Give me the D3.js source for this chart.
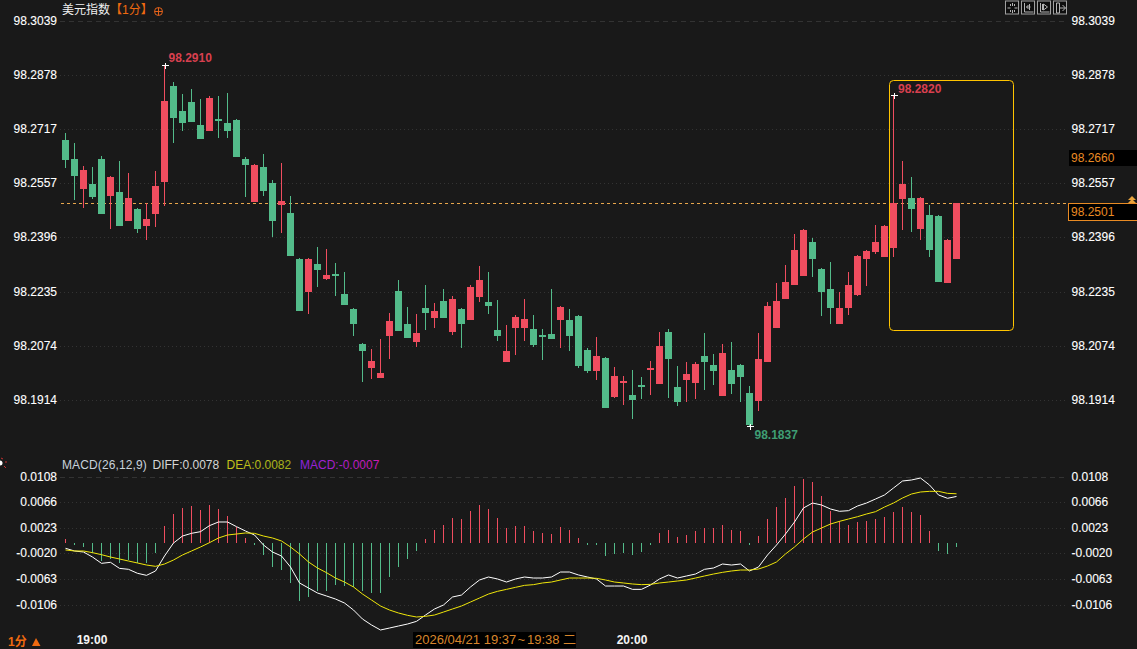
<!DOCTYPE html>
<html>
<head>
<meta charset="utf-8">
<style>
  html, body { margin: 0; padding: 0; background: #191919; overflow: hidden; }
  text { font-family: "Liberation Sans", Arial, sans-serif; }
  .cjk { font-family: "Liberation Sans", "Noto Sans CJK SC", sans-serif; }
</style>
<script src="https://cdn.jsdelivr.net/npm/d3@7"></script>
</head>
<body>
<div id="chart"></div>
<script>
// candles, one per minute
let opens = [98.2687,98.2630,98.2541,98.2556,98.2630,98.2520,98.2532,98.2446,98.2482,98.2431,
  98.2467,98.2562,98.2847,98.2773,98.2800,98.2731,98.2713,98.2749,98.2737,98.2746,
  98.2630,98.2503,98.2606,98.2559,98.2494,98.2470,98.2333,98.2235,98.2319,98.2274,
  98.2289,98.2229,98.2185,98.2081,98.2010,98.1980,98.2105,98.2239,98.2141,98.2087,
  98.2188,98.2158,98.2209,98.2117,98.2185,98.2152,98.2221,98.2206,98.2123,98.2028,
  98.2129,98.2129,98.2126,98.2108,98.2111,98.2152,98.2152,98.2164,98.2063,98.2001,
  98.2040,98.1924,98.1965,98.1930,98.1959,98.2004,98.1962,98.2117,98.1953,98.1974,
  98.1965,98.2046,98.2019,98.1927,98.2004,98.2019,98.1936,98.1912,98.2028,98.2129,
  98.2215,98.2256,98.2283,98.2384,98.2304,98.2244,98.2141,98.2188,98.2227,98.2333,
  98.2354,98.2339,98.2366,98.2511,98.2515,98.2422,98.2464,98.2461,98.2262,98.2333];
let highs = [98.2707,98.2678,98.2609,98.2606,98.2639,98.2580,98.2624,98.2589,98.2485,98.2500,
  98.2595,98.2910,98.2859,98.2823,98.2838,98.2808,98.2817,98.2817,98.2826,98.2749,
  98.2636,98.2615,98.2645,98.2568,98.2618,98.2520,98.2336,98.2336,98.2369,98.2363,
  98.2322,98.2295,98.2188,98.2084,98.2066,98.2096,98.2173,98.2271,98.2191,98.2170,
  98.2256,98.2203,98.2244,98.2224,98.2188,98.2256,98.2313,98.2295,98.2212,98.2138,
  98.2167,98.2215,98.2167,98.2126,98.2244,98.2194,98.2185,98.2167,98.2069,98.2102,
  98.2043,98.2013,98.1986,98.2004,98.1983,98.2031,98.2117,98.2126,98.2016,98.2028,
  98.2028,98.2114,98.2052,98.2081,98.2087,98.2022,98.1956,98.2114,98.2206,98.2262,
  98.2316,98.2408,98.2423,98.2396,98.2307,98.2325,98.2235,98.2295,98.2345,98.2360,
  98.2434,98.2434,98.2820,98.2624,98.2577,98.2517,98.2494,98.2464,98.2393,98.2501];
let lows = [98.2603,98.2509,98.2485,98.2511,98.2467,98.2422,98.2431,98.2446,98.2411,98.2390,
  98.2428,98.2491,98.2678,98.2713,98.2740,98.2690,98.2713,98.2693,98.2693,98.2636,
  98.2517,98.2503,98.2520,98.2399,98.2411,98.2342,98.2179,98.2170,98.2250,98.2271,
  98.2224,98.2197,98.2105,98.1968,98.1977,98.1980,98.2037,98.2120,98.2099,98.2072,
  98.2123,98.2129,98.2158,98.2108,98.2069,98.2152,98.2206,98.2170,98.2090,98.2028,
  98.2049,98.2090,98.2072,98.2034,98.2096,98.2069,98.2060,98.2010,98.1995,98.1974,
  98.1891,98.1921,98.1900,98.1859,98.1918,98.1930,98.1962,98.1921,98.1897,98.1909,
  98.1918,98.1945,98.1959,98.1927,98.1933,98.1909,98.1837,98.1882,98.2028,98.2129,
  98.2215,98.2256,98.2283,98.2280,98.2164,98.2141,98.2141,98.2167,98.2224,98.2253,
  98.2348,98.2339,98.2339,98.2420,98.2414,98.2390,98.2339,98.2265,98.2262,98.2333];
let closes = [98.2627,98.2580,98.2598,98.2517,98.2467,98.2577,98.2431,98.2515,98.2422,98.2452,
  98.2550,98.2802,98.2752,98.2737,98.2740,98.2690,98.2811,98.2743,98.2713,98.2636,
  98.2612,98.2612,98.2535,98.2446,98.2506,98.2342,98.2179,98.2333,98.2301,98.2286,
  98.2283,98.2197,98.2141,98.2060,98.2031,98.1995,98.2149,98.2120,98.2099,98.2114,
  98.2173,98.2179,98.2158,98.2215,98.2141,98.2250,98.2271,98.2194,98.2105,98.2060,
  98.2161,98.2155,98.2078,98.2105,98.2096,98.2191,98.2105,98.2016,98.2001,98.2046,
  98.1891,98.1986,98.1971,98.1915,98.1956,98.2010,98.2075,98.2037,98.1909,98.1992,
  98.2022,98.2028,98.2001,98.2055,98.1962,98.1983,98.1840,98.2037,98.2194,98.2209,
  98.2265,98.2360,98.2420,98.2333,98.2235,98.2188,98.2188,98.2256,98.2342,98.2357,
  98.2384,98.2431,98.2501,98.2556,98.2482,98.2515,98.2360,98.2265,98.2390,98.2501];

// macd pane
let diffValues = [-0.00089,-0.00134,-0.00151,-0.00235,-0.00341,-0.00324,-0.00425,-0.00441,-0.00508,-0.00542,
  -0.00469,-0.00218,0,0.00117,0.00162,0.00190,0.00291,0.00352,0.00352,0.00274,
  0.00201,0.00134,-0.00034,-0.00151,-0.00218,-0.00402,-0.00670,-0.00754,-0.00838,-0.00888,
  -0.00939,-0.01006,-0.01123,-0.01274,-0.01374,-0.01458,-0.01425,-0.01391,-0.01358,-0.01313,
  -0.01207,-0.01106,-0.01039,-0.00905,-0.00872,-0.00737,-0.00620,-0.00570,-0.00603,-0.00654,
  -0.00603,-0.00570,-0.00587,-0.00587,-0.00570,-0.00486,-0.00486,-0.00536,-0.00570,-0.00603,
  -0.00721,-0.00721,-0.00721,-0.00777,-0.00777,-0.00704,-0.00603,-0.00536,-0.00587,-0.00553,
  -0.00520,-0.00441,-0.00419,-0.00352,-0.00369,-0.00352,-0.00469,-0.00402,-0.00201,-0.00034,
  0.00151,0.00352,0.00587,0.00670,0.00637,0.00570,0.00531,0.00542,0.00620,0.00670,
  0.00737,0.00805,0.00922,0.01039,0.01056,0.01089,0.00972,0.00805,0.00749,0.00780];
let deaValues = [-0.00117,-0.00134,-0.00134,-0.00162,-0.00196,-0.00235,-0.00268,-0.00302,-0.00335,-0.00369,
  -0.00391,-0.00352,-0.00285,-0.00201,-0.00134,-0.00067,0.00006,0.00084,0.00134,0.00151,
  0.00168,0.00162,0.00117,0.00084,0.00034,-0.00067,-0.00184,-0.00318,-0.00419,-0.00497,
  -0.00587,-0.00654,-0.00737,-0.00855,-0.00955,-0.01056,-0.01123,-0.01173,-0.01212,-0.01240,
  -0.01229,-0.01207,-0.01157,-0.01106,-0.01056,-0.00989,-0.00922,-0.00855,-0.00810,-0.00777,
  -0.00743,-0.00710,-0.00698,-0.00670,-0.00654,-0.00620,-0.00587,-0.00587,-0.00587,-0.00592,
  -0.00620,-0.00654,-0.00670,-0.00687,-0.00698,-0.00693,-0.00670,-0.00654,-0.00637,-0.00620,
  -0.00587,-0.00553,-0.00520,-0.00492,-0.00469,-0.00453,-0.00453,-0.00436,-0.00386,-0.00318,
  -0.00184,-0.00067,0.00067,0.00184,0.00251,0.00318,0.00363,0.00402,0.00441,0.00486,
  0.00525,0.00603,0.00670,0.00754,0.00821,0.00855,0.00866,0.00866,0.00832,0.00825];
let macdValues = [0.0007,-0.0003,-0.0007,-0.0017,-0.0030,-0.0026,-0.0033,-0.0029,-0.0034,-0.0033,
  -0.0017,0.0028,0.0049,0.0059,0.0062,0.0055,0.0064,0.0057,0.0045,0.0026,
  0.0008,-0.0003,-0.0020,-0.0040,-0.0045,-0.0067,-0.0097,-0.0091,-0.0080,-0.0080,
  -0.0070,-0.0072,-0.0074,-0.0080,-0.0084,-0.0084,-0.0057,-0.0040,-0.0027,-0.0013,
  0.0007,0.0022,0.0030,0.0042,0.0040,0.0054,0.0064,0.0057,0.0042,0.0025,
  0.0028,0.0028,0.0020,0.0017,0.0015,0.0027,0.0022,0.0008,-0.0003,-0.0003,
  -0.0022,-0.0018,-0.0017,-0.0020,-0.0015,-0.0003,0.0017,0.0022,0.0010,0.0013,
  0.0020,0.0025,0.0025,0.0030,0.0022,0.0020,-0.0003,0.0012,0.0040,0.0060,
  0.0075,0.0096,0.0107,0.0102,0.0079,0.0054,0.0037,0.0030,0.0035,0.0037,
  0.0040,0.0044,0.0052,0.0060,0.0052,0.0047,0.0020,-0.0013,-0.0018,-0.0007];

// tick labels
let priceTicks = [98.3039,98.2878,98.2717,98.2557,98.2396,98.2235,98.2074,98.1914];
let macdTicks = ["0.0108","0.0066","0.0023","-0.0020","-0.0063","-0.0106"];
let timeIndex = [3,63];
let timeLabels = ["19:00","20:00"];

let lastPrice = 98.2501;
let red = "#ef4d5f", green = "#53bb8a", orange = "#e98b24";

let width = 1137, height = 649;

let svg = d3.select("#chart")
  .append("svg")
  .attr("width", width)
  .attr("height", height)
  .style("display", "block");

svg.append("rect").attr("width", width).attr("height", height).attr("fill", "#191919");

let x = d3.scalePoint().domain(d3.range(closes.length)).range([65.5, 956.5]);
let y = d3.scaleLinear().domain([98.3039, 98.1914]).range([21.3, 400.3]);
// the labels on the macd axis are rounded, so the axis is evenly spaced labels
let macdAxisY = d3.scalePoint().domain(macdTicks).range([477.3, 605]);
let macdY = d3.scaleLinear().domain([0.0108, -0.0106]).range([478.56, 606.25]);

// grid
function grid(scale, ticks) {
  let g = svg.append("g").attr("shape-rendering", "crispEdges");
  g.selectAll("line").data(ticks).enter().append("line")
    .attr("x1", 60).attr("x2", 1066)
    .attr("y1", function(d) { return scale(d); })
    .attr("y2", function(d) { return scale(d); })
    .attr("stroke", "#333333")
    .attr("stroke-dasharray", function(d, i) { return i == 0 ? "5,4" : "1,3"; });
}
grid(y, priceTicks);
grid(macdAxisY, macdTicks);

// axes, both sides
function tickStyle(g) {
  g.select(".domain").remove();
  g.selectAll("text").attr("fill", "#ffffff").attr("stroke", "#ffffff").attr("stroke-width", 0.1)
    .style("font-size", "12px")
    .style("font-family", '"Liberation Sans", Arial, sans-serif');
}
svg.append("g").attr("transform", "translate(57,-0.8)")
  .call(d3.axisLeft(y).tickValues(priceTicks).tickFormat(d3.format(".4f")).tickSize(0).tickPadding(0)).call(tickStyle);
svg.append("g").attr("transform", "translate(1071.5,-0.8)")
  .call(d3.axisRight(y).tickValues(priceTicks).tickFormat(d3.format(".4f")).tickSize(0).tickPadding(0)).call(tickStyle);
svg.append("g").attr("transform", "translate(57,-0.8)")
  .call(d3.axisLeft(macdAxisY).tickSize(0).tickPadding(0)).call(tickStyle);
svg.append("g").attr("transform", "translate(1071.5,-0.8)")
  .call(d3.axisRight(macdAxisY).tickSize(0).tickPadding(0)).call(tickStyle);

// last price line
svg.append("line")
  .attr("x1", 61).attr("x2", 1070)
  .attr("y1", Math.round(y(lastPrice)) + 0.5).attr("y2", Math.round(y(lastPrice)) + 0.5)
  .attr("stroke", "#e8a64c")
  .attr("stroke-dasharray", "3,3");

// candles
let candles = svg.append("g").attr("shape-rendering", "crispEdges");
function candleColor(i) { return closes[i] >= opens[i] ? red : green; }

candles.selectAll(".wick").data(closes).enter().append("rect")
  .attr("class", "wick")
  .attr("x", function(d, i) { return x(i) - 0.5; })
  .attr("y", function(d, i) { return y(highs[i]); })
  .attr("width", 1)
  .attr("height", function(d, i) { return y(lows[i]) - y(highs[i]); })
  .attr("fill", function(d, i) { return candleColor(i); });

candles.selectAll(".body").data(closes).enter().append("rect")
  .attr("class", "body")
  .attr("x", function(d, i) { return x(i) - 3.5; })
  .attr("y", function(d, i) { return y(Math.max(opens[i], closes[i])); })
  .attr("width", 7)
  .attr("height", function(d, i) { return Math.max(2, Math.abs(y(opens[i]) - y(closes[i]))); })
  .attr("fill", function(d, i) { return candleColor(i); });

// high / low marks
function extreme(i, value, dx, dy, color) {
  let px = x(i), py = Math.round(y(value)) + 0.5;
  svg.append("path")
    .attr("d", d3.line()([[px - 3, py], [px + 4, py]]) + d3.line()([[px + 0.5, py - 3], [px + 0.5, py + 3]]))
    .attr("stroke", "#ffffff").attr("fill", "none").attr("shape-rendering", "crispEdges");
  svg.append("text")
    .attr("x", px + dx).attr("y", py + dy)
    .attr("fill", color)
    .style("font-size", "12px").style("font-weight", "bold")
    .text(value.toFixed(4));
}
extreme(11, 98.2910, 4, -4, "#d8404f");
extreme(92, 98.2820, 4.5, -3, "#d8404f");
extreme(76, 98.1837, 5, 12, "#3f9e74");

// yellow marker box
svg.append("rect")
  .attr("x", 889.5).attr("y", 80.5).attr("width", 124).attr("height", 250).attr("rx", 4)
  .attr("fill", "none").attr("stroke", "#ffc400");

// macd bars
svg.append("g").attr("shape-rendering", "crispEdges")
  .selectAll("rect").data(macdValues).enter().append("rect")
  .attr("x", function(d, i) { return x(i) - 0.5; })
  .attr("y", function(d) { return macdY(Math.max(0, d)); })
  .attr("width", 1)
  .attr("height", function(d) { return Math.abs(macdY(d) - macdY(0)); })
  .attr("fill", function(d) { return d >= 0 ? red : green; });

// diff and dea
let macdLine = d3.line()
  .x(function(d, i) { return x(i); })
  .y(function(d) { return macdY(d); });
svg.append("path").attr("d", macdLine(diffValues))
  .attr("fill", "none").attr("stroke", "#ffffff").attr("stroke-width", 1);
svg.append("path").attr("d", macdLine(deaValues))
  .attr("fill", "none").attr("stroke", "#efe60a").attr("stroke-width", 1);

// header
let title = svg.append("text").attr("class", "cjk").attr("y", 14).style("font-size", "12px");
title.append("tspan").attr("x", 62).attr("fill", "#f0f0f0").text("美元指数");
title.append("tspan").attr("x", 110).attr("fill", "#ef6a10").text("【1分】");
svg.append("circle").attr("cx", 158.5).attr("cy", 11.5).attr("r", 4)
  .attr("fill", "none").attr("stroke", "#e0601a");
svg.append("path").attr("d", "M154.5,11.5H162.5M158.5,7.5V15.5").attr("stroke", "#e0601a").attr("fill", "none");

// toolbar buttons
let buttonX = [1005.5, 1021.5, 1037.5, 1053.5];
let buttonGlyphs = [
  "M5,3V5M5,9V11M9,3V5M9,9V11M2,7H5M9,7H12M7,2V5M7,9V12",
  "M3,2V11H12M5,6H9M8,3V9M5,6L7,4M5,6L7,8",
  "M3,2V11H12M5,3V9M6,3L10,6L6,9Z",
  "M3,2V12H6V2ZM6,7H12M9,4L12,7L9,10"
];
let buttons = svg.selectAll(".button").data(buttonX).enter().append("g")
  .attr("transform", function(d) { return "translate(" + d + ",1)"; });
buttons.append("rect").attr("width", 13).attr("height", 13)
  .attr("fill", "#0e0e0e").attr("stroke", "#a0a0a0");
buttons.append("path")
  .attr("d", function(d, i) { return buttonGlyphs[i]; })
  .attr("fill", "none").attr("stroke", "#b4b4b4");

// price flags on the right
svg.append("rect").attr("x", 1069).attr("y", 150).attr("width", 68).attr("height", 16).attr("fill", "#000000");
svg.append("text").attr("x", 1071).attr("y", 162).attr("fill", orange).style("font-size", "12px").text("98.2660");
svg.append("rect").attr("x", 1068.5).attr("y", 203.5).attr("width", 70).attr("height", 17)
  .attr("fill", "#000000").attr("stroke", orange);
svg.append("text").attr("x", 1071).attr("y", 216).attr("fill", orange).style("font-size", "12px").text(lastPrice.toFixed(4));
svg.append("path").attr("d", "M1132,196L1136,200H1128ZM1132,199L1136,203H1128Z").attr("fill", "#e8a33d");

// macd legend
let defs = svg.append("defs");
let deaFill = defs.append("linearGradient").attr("id", "deaFill");
deaFill.append("stop").attr("offset", "0%").attr("stop-color", "#c9c61a");
deaFill.append("stop").attr("offset", "100%").attr("stop-color", "#a3b01a");
let macdFill = defs.append("linearGradient").attr("id", "macdFill");
macdFill.append("stop").attr("offset", "0%").attr("stop-color", "#8a24e0");
macdFill.append("stop").attr("offset", "100%").attr("stop-color", "#d018b0");

let legendX = [62, 152.5, 226.5, 300];
let legendText = ["MACD(26,12,9)", "DIFF:0.0078", "DEA:0.0082", "MACD:-0.0007"];
let legendFill = ["#c8d2dc", "#d6d6d6", "url(#deaFill)", "url(#macdFill)"];
svg.selectAll(".legend").data(legendText).enter().append("text")
  .attr("x", function(d, i) { return legendX[i]; })
  .attr("y", 469)
  .attr("fill", function(d, i) { return legendFill[i]; })
  .style("font-size", "12px")
  .style("letter-spacing", function(d, i) { return i == 0 ? "0.12px" : "0"; })
  .text(function(d) { return d; });

// left edge marker
svg.append("circle").attr("cx", 0).attr("cy", 463).attr("r", 2.5).attr("fill", "#ffffff");
svg.append("path").attr("d", "M1,458L3,459M5,462L7,462M4,466L6,468").attr("stroke", "#c93030").attr("fill", "none");

// time axis
svg.selectAll(".time").data(timeLabels).enter().append("text")
  .attr("x", function(d, i) { return x(timeIndex[i]) - 0.5; })
  .attr("y", 644)
  .attr("text-anchor", "middle")
  .attr("fill", "#f4f4f4")
  .style("font-size", "12px").style("font-weight", "bold")
  .text(function(d) { return d; });

svg.append("text").attr("class", "cjk").attr("x", 8).attr("y", 646)
  .attr("fill", "#ef6a10").style("font-size", "12px").style("font-weight", "bold").text("1分");
svg.append("path").attr("d", "M36,638L40.5,646H32Z").attr("fill", "#ef6a10");

// crosshair date
svg.append("rect").attr("x", 413).attr("y", 632).attr("width", 163).attr("height", 16).attr("fill", "#000000");
let dateText = svg.append("text").attr("class", "cjk").attr("x", 415).attr("y", 644)
  .attr("fill", "#d8862c").style("font-size", "13px");
dateText.append("tspan").text("2026/04/21 19:37");
dateText.append("tspan").attr("x", 517.5).text("~");
dateText.append("tspan").attr("x", 527).text("19:38");
dateText.append("tspan").attr("x", 563).text("二");
</script>
</body>
</html>
